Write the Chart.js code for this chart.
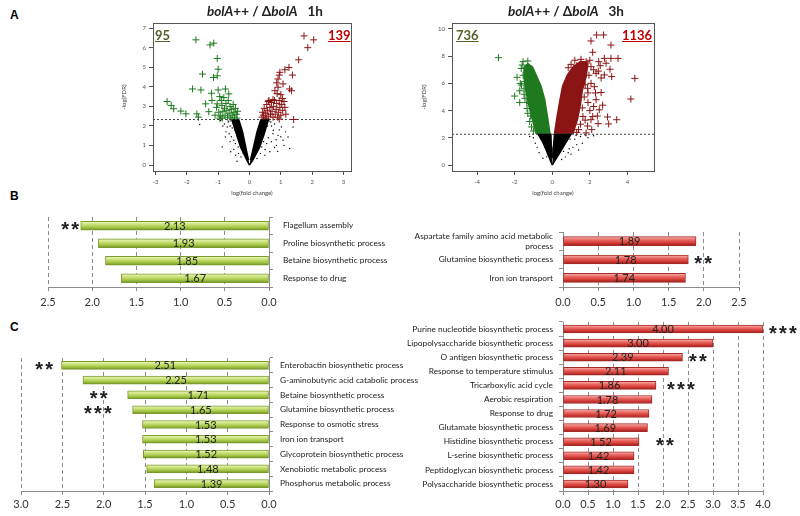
<!DOCTYPE html>
<html>
<head>
<meta charset="utf-8">
<script src="https://cdn.jsdelivr.net/npm/chart.js@4.4.1/dist/chart.umd.min.js"></script>
<style>
  body { margin:0; background:#fff; width:800px; height:516px; position:relative; overflow:hidden; font-family: Lato, "Liberation Sans", sans-serif; }
  canvas { position:absolute; }
  .panel { position:absolute; font:bold 12px "Liberation Sans", Arial, sans-serif; color:#000; }
  .ttl { position:absolute; font:bold 13.5px Lato, "Liberation Sans", sans-serif; color:#222; white-space:pre; }
  .cnt { position:absolute; font:bold 13px Lato, "Liberation Sans", sans-serif; text-decoration:underline; }
</style>
</head>
<body>
<div class="panel" style="left:10px;top:8px">A</div>
<div class="panel" style="left:10px;top:189px">B</div>
<div class="panel" style="left:10px;top:320px">C</div>

<canvas id="v1" width="256" height="200" style="left:100px;top:0"></canvas>
<canvas id="v3" width="259" height="200" style="left:400px;top:0"></canvas>
<canvas id="bDown" width="460" height="130" style="left:0;top:190px"></canvas>
<canvas id="cDown" width="460" height="186" style="left:0;top:330px"></canvas>
<canvas id="bUp" width="400" height="130" style="left:400px;top:190px"></canvas>
<canvas id="cUp" width="400" height="206" style="left:400px;top:310px"></canvas>

<div class="ttl" style="left:207px;top:3px"><i>bolA</i>++ / Δ<i>bolA</i>   1h</div>
<div class="ttl" style="left:508px;top:3px"><i>bolA</i>++ / Δ<i>bolA</i>   3h</div>
<div class="cnt" style="left:155px;top:27px;color:#4f6228">95</div>
<div class="cnt" style="left:328px;top:27px;color:#c00000">139</div>
<div class="cnt" style="left:456px;top:27px;color:#4f6228">736</div>
<div class="cnt" style="left:622px;top:27px;color:#c00000">1136</div>

<script>
// ---- panel A, 1h : log(fold change), -log(FDR)
const v1Cutoff = 2.33;
const v1Down = [[-1.71,6.4],[-1.26,6.14],[-1.14,6.23],[-1.03,5.45],[-1.0,4.9],[-1.5,4.65],[-1.15,4.48],[-1.03,4.56],
  [-1.82,3.89],[-1.55,3.84],[-1.21,3.67],[-1.0,3.84],[-0.77,3.89],[-0.66,3.64],[-2.63,3.25],[-2.5,3.05],[-2.42,2.88],
  [-2.19,2.76],[-2.03,2.62],[-1.68,2.62],[-1.63,2.45],[-1.3,2.73],[-1.4,3.13],[-1.2,3.3],[-1.03,3.13],[-0.9,3.3],[-0.8,2.9],
  [-1.05,2.95],[-0.98,2.7],[-0.95,3.5],[-0.92,2.5],[-0.88,3.05],[-0.85,2.75],[-0.82,3.45],[-0.78,2.55],[-0.75,3.15],
  [-0.72,2.8],[-0.7,2.45],[-0.68,3.3],[-0.65,2.65],[-0.62,3.0],[-0.6,2.4],[-0.58,2.85],[-0.55,2.55],[-0.52,3.1],
  [-0.5,2.7],[-0.48,2.45],[-0.45,2.9],[-0.42,2.6],[-0.4,2.4],[-0.38,2.75],[-1.1,2.55],[-0.95,2.4],[-0.87,2.4]];
const v1Up = [[1.74,6.6],[2.05,6.4],[1.86,6.0],[1.57,5.38],[1.26,4.99],[1.13,4.87],[0.97,4.74],[1.37,4.6],[0.91,4.4],
  [1.07,4.15],[0.91,3.98],[1.28,3.89],[1.34,3.8],[0.81,3.8],[1.41,2.33],[0.95,4.6],[0.87,4.2],[1.0,3.6],[0.88,3.65],
  [0.4,2.45],[0.42,2.7],[0.45,2.55],[0.47,2.9],[0.5,2.4],[0.52,2.65],[0.55,3.1],[0.57,2.8],[0.6,2.5],[0.62,3.3],
  [0.65,2.95],[0.67,2.6],[0.7,3.2],[0.72,2.75],[0.75,2.45],[0.77,3.0],[0.8,3.3],[0.82,2.6],[0.85,2.85],[0.87,3.15],
  [0.9,2.45],[0.92,2.7],[0.95,3.3],[0.97,2.95],[1.0,2.55],[1.03,3.1],[1.06,2.8],[1.1,3.25],[1.13,2.95],[1.16,2.6],
  [0.6,3.25],[0.75,3.35],[0.55,2.35],[0.95,2.35],[1.05,3.4]];
const v1RestLeft = [[0,0],[-0.1,0.3],[-0.28,0.9],[-0.42,1.6],[-0.56,2.3],[-0.34,2.3],[-0.22,1.7],[-0.13,1.0],[-0.03,0.25]];
const v1RestRight = [[0.03,0.25],[0.14,1.0],[0.24,1.7],[0.36,2.3],[0.6,2.3],[0.47,1.6],[0.32,0.9],[0.12,0.3],[0,0]];
const v1RestDots = [[-0.87,0.93],[-0.77,1.44],[-0.71,1.95],[-0.6,0.68],[-0.5,1.27],[-0.44,0.51],[-0.36,0.93],[-0.27,0.42],
  [-0.92,2.28],[-1.59,2.08],[-0.65,1.6],[-0.8,2.1],[-0.55,1.9],[-0.4,0.2],[0.6,2.28],[0.76,1.78],[0.91,1.52],[1.07,1.27],
  [1.23,1.44],[1.28,0.85],[0.86,1.01],[0.65,0.68],[0.49,0.51],[0.39,0.93],[1.39,1.95],[1.02,1.95],[0.24,0.34],[0.7,1.2],
  [0.55,1.1],[0.8,2.1],[0.9,0.7],[1.15,1.7],[0.45,1.5],
  [-0.3,1.3],[-0.45,1.1],[-0.62,2.0],[-0.68,2.2],[-0.35,0.6],[-0.62,1.2],[-0.75,1.7],[-0.5,0.8],[-0.2,0.6],[-0.48,1.8],
  [-0.85,2.0],[-0.58,1.45],[-0.66,2.25],[-0.52,2.15],[-0.4,1.5],[-0.25,0.9],
  [0.3,1.3],[0.45,1.2],[0.58,2.0],[0.68,2.2],[0.35,0.6],[0.6,1.4],[0.75,1.6],[0.5,0.8],[0.2,0.7],[0.45,1.8],[0.95,1.8],
  [1.1,1.0],[0.8,0.9],[0.7,2.0],[1.0,1.45],[0.64,2.25],[0.52,2.1],[0.4,1.55],[0.26,0.95],[0.85,1.3]];

// ---- panel A, 3h
const v3Cutoff = 2.26;
const v3DownMass = [[-0.12,2.3],[-0.25,3.5],[-0.4,4.8],[-0.6,5.8],[-0.85,6.6],[-1.05,7.2],[-1.3,7.45],[-1.5,7.2],
  [-1.5,6.4],[-1.4,5.4],[-1.25,4.4],[-1.05,3.3],[-0.85,2.3]];
const v3UpMass = [[0.12,2.3],[0.25,3.5],[0.4,4.7],[0.55,5.8],[0.8,6.6],[1.1,7.2],[1.5,7.6],[1.9,7.5],[1.8,6.5],
  [1.6,5.5],[1.5,4.5],[1.35,3.4],[1.1,2.3]];
const v3Down = [[-2.86,7.89],[-1.55,7.6],[-1.6,7.35],[-1.87,6.45],[-2.0,5.07],[-1.73,5.46],[-1.73,4.6],[-1.34,4.16],
  [-1.46,6.13],[-1.64,5.88],[-1.2,4.53],[-1.7,6.0],[-1.55,6.6],[-1.5,5.2],[-1.45,4.9],[-1.3,3.8],[-1.2,3.2],[-1.1,2.8],
  [-1.0,2.5],[-1.15,3.6],[-1.65,7.1],[-1.3,7.65],[-1.5,5.6],[-1.35,4.6]];
const v3Up = [[2.36,9.56],[2.73,9.56],[2.06,9.12],[3.12,8.82],[2.15,8.29],[3.5,7.84],[3.12,7.84],[2.77,7.84],[2.47,7.6],
  [1.53,7.77],[1.8,7.6],[2.86,7.48],[3.07,7.04],[2.77,6.62],[3.16,6.5],[2.33,6.74],[4.39,6.37],[4.18,4.85],[2.6,5.33],
  [2.33,4.8],[2.5,4.06],[2.68,4.4],[2.94,3.53],[3.43,3.33],[3.0,3.02],[2.44,3.04],[1.8,2.36],[1.88,2.87],[2.15,3.57],
  [2.06,3.33],[1.63,3.57],[1.88,5.64],[2.06,6.0],[2.24,5.76],[1.63,6.99],[2.06,7.23],[1.2,7.7],[1.0,7.4],[1.3,7.3],
  [2.0,7.7],[2.2,7.0],[1.95,6.6],[1.75,5.9],[1.7,5.0],[1.9,4.6],[1.6,4.2],[2.0,4.0],[1.75,3.3],[1.5,3.0],[1.4,2.6],
  [2.3,5.3],[2.6,6.4],[2.45,6.9],[1.9,5.3],[2.2,4.3],[2.4,3.6],[2.1,2.6],[1.3,2.4],[0.85,7.15],[1.6,7.35],[2.55,7.3]];
const v3RestLeft = [[0,0],[-0.15,0.5],[-0.35,1.2],[-0.55,1.8],[-0.75,2.26],[-0.07,2.26],[-0.05,1.3],[-0.02,0.5]];
const v3RestRight = [[0.02,0.5],[0.06,1.3],[0.12,2.26],[1.0,2.26],[0.7,1.6],[0.4,0.9],[0.15,0.35],[0,0]];
const v3RestDots = [[1.2,1.9],[1.5,2.1],[1.3,1.5],[0.9,1.2],[1.6,1.6],[1.0,0.8],[0.7,0.6],[1.9,2.0],[2.2,2.15],[0.6,1.0],
  [-0.9,1.6],[-0.7,0.9],[-1.0,2.0],[-0.5,0.5],[-1.2,2.1],[1.4,1.1],[0.8,1.8],[1.75,2.2],[-0.4,1.3],[-0.6,1.9],
  [0.5,0.4],[0.85,0.9],[1.1,1.3],[0.55,1.4],[-0.3,0.6],[-0.8,1.3],[1.25,2.2],[0.95,1.9]];

// ---- panel B (GO terms, 1h)
const bDownTerms = ['Flagellum assembly','Proline biosynthetic process','Betaine biosynthetic process','Response to drug'];
const bDownValues = [2.13,1.93,1.85,1.67];
const bDownStars = ['**','','',''];
const bDownStarAt = [2.25,0,0,0];
const bUpTerms = [['Aspartate family amino acid metabolic','process'],'Glutamine biosynthetic process','Iron ion transport'];
const bUpValues = [1.89,1.78,1.74];
const bUpStars = ['','**',''];
const bUpStarAt = [0,1.99,0];

// ---- panel C (GO terms, 3h)
const cDownTerms = ['Enterobactin biosynthetic process','G-aminobutyric acid catabolic process','Betaine biosynthetic process',
  'Glutamine biosynthetic process','Response to osmotic stress','Iron ion transport','Glycoprotein biosynthetic process',
  'Xenobiotic metabolic process','Phosphorus metabolic process'];
const cDownValues = [2.51,2.25,1.71,1.65,1.53,1.53,1.52,1.48,1.39];
const cDownStars = ['**','','**','***','','','','',''];
const cDownStarAt = [2.72,0,2.06,2.07,0,0,0,0,0];
const cUpTerms = ['Purine nucleotide biosynthetic process','Lipopolysaccharide biosynthetic process','O antigen biosynthetic process',
  'Response to temperature stimulus','Tricarboxylic acid cycle','Aerobic respiration','Response to drug',
  'Glutamate biosynthetic process','Histidine biosynthetic process','L-serine biosynthetic process',
  'Peptidoglycan biosynthetic process','Polysaccharide biosynthetic process'];
const cUpValues = [4.00,3.00,2.39,2.11,1.86,1.78,1.72,1.69,1.52,1.42,1.42,1.30];
const cUpStars = ['***','','**','','***','','','','**','','',''];
const cUpStarAt = [4.4,0,2.7,0,2.36,0,0,0,2.04,0,0,0];

Chart.defaults.font.family = 'Lato, "Liberation Sans", sans-serif';
Chart.defaults.color = '#222';

const GREEN = '#1f7a1f', RED = '#8b1414';
const pts = a => a.map(p => ({x: p[0], y: p[1]}));

const boxPlugin = {
  id: 'box',
  afterDraw(c) {
    const a = c.chartArea, g = c.ctx;
    g.save();
    g.strokeStyle = '#555';
    g.lineWidth = 1;
    g.strokeRect(Math.round(a.left) + 0.5, Math.round(a.top) + 0.5, Math.round(a.width), Math.round(a.height));
    g.restore();
  }
};

function volcano(id, o) {
  const shape = (d, col) => ({type: 'line', data: pts(d), fill: 'shape', backgroundColor: col, borderColor: col,
    borderWidth: 1.5, pointRadius: 0, tension: 0});
  const crosses = (d, col) => ({type: 'scatter', data: pts(d), pointStyle: 'cross', pointRadius: 3.5,
    borderColor: col, borderWidth: 1});
  new Chart(document.getElementById(id), {
    type: 'scatter',
    data: {
      datasets: [
        shape(o.restLeft, '#000'),
        shape(o.restRight, '#000'),
        {type: 'scatter', data: pts(o.restDots), pointRadius: 0.7, backgroundColor: '#000', borderWidth: 0},
        ...(o.downMass ? [shape(o.downMass, GREEN), shape(o.upMass, RED)] : []),
        crosses(o.down, GREEN),
        crosses(o.up, RED),
        {type: 'line', data: [{x: o.xMin, y: o.cut}, {x: o.xMax, y: o.cut}], borderColor: '#444', borderWidth: 1,
          borderDash: [2, 2], pointRadius: 0}
      ]
    },
    options: {
      responsive: false,
      animation: false,
      layout: {padding: {top: 23, right: 4, left: 0, bottom: 0}},
      plugins: {legend: {display: false}, tooltip: {enabled: false}},
      scales: {
        x: {
          type: 'linear', min: o.xMin, max: o.xMax,
          ticks: {stepSize: o.xStep, includeBounds: false, font: {size: 6}, color: '#555', padding: 3, maxRotation: 0},
          grid: {drawOnChartArea: false, tickLength: 4, color: '#555'},
          border: {display: false},
          title: {display: true, text: 'log(fold change)', font: {size: 6}, color: '#444', padding: {top: 0, bottom: 3}},
          afterFit: s => { s.height = 29; }
        },
        y: {
          min: o.yMin, max: o.yMax,
          ticks: {stepSize: o.yStep, includeBounds: false, font: {size: 6}, color: '#555', padding: 3},
          grid: {drawOnChartArea: false, tickLength: 4, color: '#555'},
          border: {display: false},
          title: {display: true, text: '-log(FDR)', font: {size: 6}, color: '#444', padding: {top: 20, bottom: 0}},
          afterFit: s => { s.width = o.yw; }
        }
      }
    },
    plugins: [boxPlugin]
  });
}

volcano('v1', {cut: v1Cutoff, down: v1Down, up: v1Up, restLeft: v1RestLeft, restRight: v1RestRight, restDots: v1RestDots,
  xMin: -3.08, xMax: 3.24, xStep: 1, yMin: -0.3, yMax: 7.26, yStep: 1, yw: 53});
volcano('v3', {cut: v3Cutoff, down: v3Down, up: v3Up, downMass: v3DownMass, upMass: v3UpMass,
  restLeft: v3RestLeft, restRight: v3RestRight, restDots: v3RestDots,
  xMin: -5.33, xMax: 5.41, xStep: 2, yMin: -0.44, yMax: 10.44, yStep: 2, yw: 52});

// ---- bar charts
const GREEN_BAR = ['#f1f8c8', '#cce27a', '#a2c444', '#708f24'];
const RED_BAR = ['#f8bcb8', '#ea6a64', '#d23b36', '#9a1c19'];

function barFill(stops, thick) {
  return ctx => {
    const c = ctx.chart;
    if (!c.chartArea || !c.scales.y) return stops[2];
    const y = c.scales.y.getPixelForValue(ctx.dataIndex);
    const g = c.ctx.createLinearGradient(0, y - thick / 2, 0, y + thick / 2);
    g.addColorStop(0, stops[0]);
    g.addColorStop(0.35, stops[1]);
    g.addColorStop(0.7, stops[2]);
    g.addColorStop(1, stops[3]);
    return g;
  };
}

const barText = {
  id: 'barText',
  afterDatasetsDraw(c, args, opts) {
    const g = c.ctx, xs = c.scales.x, ys = c.scales.y;
    const vals = c.data.datasets[0].data;
    g.save();
    g.fillStyle = '#222';
    g.textAlign = 'center';
    g.textBaseline = 'middle';
    g.font = '11px Lato, "Liberation Sans", sans-serif';
    vals.forEach((v, i) => {
      g.fillText(v.toFixed(2), xs.getPixelForValue(v / 2), ys.getPixelForValue(i) + 0.5);
    });
    g.font = 'bold 20px "Liberation Sans", Arial, sans-serif';
    opts.stars.forEach((s, i) => {
      if (!s) return;
      const cx = xs.getPixelForValue(opts.starAt[i]);
      const cy = ys.getPixelForValue(i) + 5;
      const step = 10;
      for (let k = 0; k < s.length; k++) {
        g.fillText('*', cx + (k - (s.length - 1) / 2) * step, cy);
      }
    });
    g.restore();
  }
};

function barChart(id, o) {
  const left = o.side === 'left';
  new Chart(document.getElementById(id), {
    type: 'bar',
    data: {
      labels: o.terms,
      datasets: [{
        data: o.values,
        backgroundColor: barFill(o.stops, o.thick),
        borderColor: o.edge,
        borderWidth: 1,
        borderSkipped: false,
        barThickness: o.thick
      }]
    },
    options: {
      indexAxis: 'y',
      responsive: false,
      animation: false,
      layout: {padding: o.pad},
      plugins: {legend: {display: false}, tooltip: {enabled: false}, barText: {stars: o.stars, starAt: o.starAt}},
      scales: {
        x: {
          min: 0, max: o.max, reverse: left,
          ticks: {stepSize: 0.5, callback: v => v.toFixed(1), font: {size: 11}, color: '#333', padding: o.tickPad, maxRotation: 0},
          grid: {color: '#8c8c8c', tickLength: 4},
          border: {dash: [4, 3], color: '#8c8c8c'},
          afterFit: s => { s.height = o.xh; }
        },
        y: {
          position: left ? 'right' : 'left',
          ticks: {font: {size: 8.3}, color: '#222', padding: o.labelPad, autoSkip: false},
          grid: {drawOnChartArea: false, offset: true, tickLength: 4, color: '#8c8c8c'},
          border: {color: '#8c8c8c'},
          afterFit: s => { s.width = o.yw; }
        }
      }
    },
    plugins: [barText]
  });
}

barChart('bDown', {side: 'left', terms: bDownTerms, values: bDownValues, stars: bDownStars, starAt: bDownStarAt,
  stops: GREEN_BAR, edge: '#7c9a2e', thick: 9, max: 2.5, pad: {left: 48, top: 27, right: 0, bottom: 0},
  xh: 33, yw: 191, tickPad: 5, labelPad: 10});
barChart('bUp', {side: 'right', terms: bUpTerms, values: bUpValues, stars: bUpStars, starAt: bUpStarAt,
  stops: RED_BAR, edge: '#a62a26', thick: 9, max: 2.5, pad: {left: 0, top: 42, right: 61, bottom: 0},
  xh: 33, yw: 163, tickPad: 5, labelPad: 6});
barChart('cDown', {side: 'left', terms: cDownTerms, values: cDownValues, stars: cDownStars, starAt: cDownStarAt,
  stops: GREEN_BAR, edge: '#7c9a2e', thick: 8, max: 3.0, pad: {left: 21, top: 28, right: 0, bottom: 0},
  xh: 25, yw: 191, tickPad: 3, labelPad: 7});
barChart('cUp', {side: 'right', terms: cUpTerms, values: cUpValues, stars: cUpStars, starAt: cUpStarAt,
  stops: RED_BAR, edge: '#a62a26', thick: 8, max: 4.0, pad: {left: 0, top: 12, right: 37, bottom: 0},
  xh: 25, yw: 163, tickPad: 3, labelPad: 6});
</script>
</body>
</html>
